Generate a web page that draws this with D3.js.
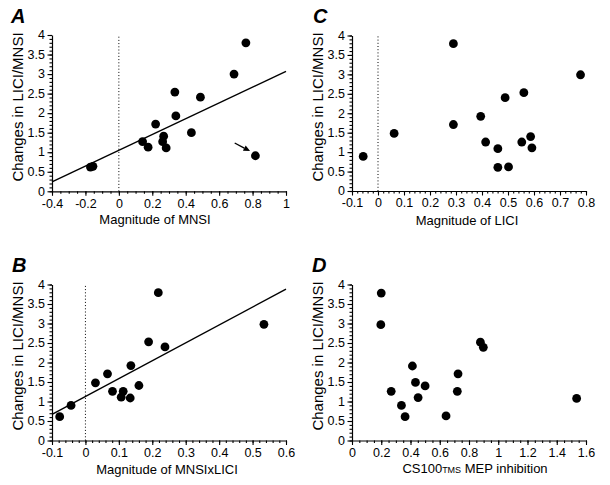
<!DOCTYPE html>
<html><head><meta charset="utf-8">
<script src="https://cdn.jsdelivr.net/npm/d3@7"></script>
<style>
body{margin:0;background:#fff}
text{font-family:"Liberation Sans",Arial,Helvetica,sans-serif;fill:#000}
</style>
</head><body>
<svg id="chart" width="610" height="485"></svg>
<script>
// ---- shared y axis ----
const yTicks = [0,0.5,1,1.5,2,2.5,3,3.5,4];
const yTickLabels = ["0","0.5","1","1.5","2","2.5","3","3.5","4"];
const yTitle = "Changes in LICI/MNSI";

// ---- panel A ----
const aX = [-0.17,-0.155,0.142,0.175,0.22,0.268,0.262,0.283,0.335,0.341,0.434,0.488,0.689,0.76,0.817];
const aY = [0.62,0.64,1.27,1.13,1.72,1.41,1.27,1.11,2.54,1.93,1.5,2.41,3.0,3.8,0.91];
const aXTicks = [-0.4,-0.2,0,0.2,0.4,0.6,0.8,1];
const aXTickLabels = ["-0.4","-0.2","0","0.2","0.4","0.6","0.8","1"];
const aFit = [[-0.4,0.24],[1,3.07]];
const aArrow = [[0.693,1.236],[0.785,1.03]];

// ---- panel B ----
const bX = [-0.077,-0.043,0.030,0.066,0.081,0.107,0.113,0.134,0.136,0.160,0.189,0.218,0.238,0.534];
const bY = [0.61,0.90,1.48,1.71,1.26,1.11,1.26,1.09,1.92,1.41,2.53,3.79,2.40,2.98];
const bXTicks = [-0.1,0,0.1,0.2,0.3,0.4,0.5,0.6];
const bXTickLabels = ["-0.1","0","0.1","0.2","0.3","0.4","0.5","0.6"];
const bFit = [[-0.1,0.67],[0.6,3.88]];

// ---- panel C ----
const cX = [-0.057,0.062,0.29,0.29,0.395,0.414,0.461,0.461,0.502,0.489,0.561,0.553,0.587,0.592,0.779];
const cY = [0.89,1.48,3.79,1.71,1.92,1.26,1.09,0.61,0.62,2.40,2.53,1.26,1.40,1.11,2.99];
const cXTicks = [-0.1,0,0.1,0.2,0.3,0.4,0.5,0.6,0.7,0.8];
const cXTickLabels = ["-0.1","0","0.1","0.2","0.3","0.4","0.5","0.6","0.7","0.8"];

// ---- panel D ----
const dX = [0.20,0.197,0.268,0.338,0.363,0.413,0.434,0.452,0.50,0.643,0.725,0.72,0.878,0.898,1.536];
const dY = [3.78,2.97,1.26,0.90,0.61,1.91,1.49,1.10,1.40,0.63,1.71,1.26,2.52,2.39,1.08];
const dXTicks = [0,0.2,0.4,0.6,0.8,1,1.2,1.4,1.6];
const dXTickLabels = ["0","0.2","0.4","0.6","0.8","1","1.2","1.4","1.6"];

const svg = d3.select("#chart");

function panel(o){
  const g = svg.append("g");
  const xd = [o.xTicks[0], o.xTicks[o.xTicks.length-1]];
  const x = d3.scaleLinear().domain(xd).range(o.xr);
  const y = d3.scaleLinear().domain([0,4]).range(o.yr);
  const x0 = o.xr[0], yb = o.yr[0];

  // minor ticks
  const xMinor = d3.range(xd[0], xd[1]+1e-9, o.xMinor);
  const yMinor = d3.range(0, 4+1e-9, 0.1);
  g.append("g").attr("transform",`translate(0,${yb})`)
    .call(d3.axisBottom(x).tickValues(xMinor).tickSize(2.5).tickFormat("").tickSizeOuter(0))
    .call(s=>s.select(".domain").remove());
  g.append("g").attr("transform",`translate(${x0},0)`)
    .call(d3.axisLeft(y).tickValues(yMinor).tickSize(2.5).tickFormat("").tickSizeOuter(0))
    .call(s=>s.select(".domain").remove());

  // major axes
  const ax = g.append("g").attr("transform",`translate(0,${yb})`)
    .call(d3.axisBottom(x).tickValues(o.xTicks).tickFormat((d,i)=>o.xLabels[i]).tickSize(4.5).tickSizeOuter(0).tickPadding(3));
  ax.selectAll("text").attr("font-size","12.5px").attr("font-family",null);
  const ay = g.append("g").attr("transform",`translate(${x0},0)`)
    .call(d3.axisLeft(y).tickValues(yTicks).tickFormat((d,i)=>yTickLabels[i]).tickSize(4.5).tickSizeOuter(0).tickPadding(2.5));
  ay.selectAll("text").attr("font-size","12.5px").attr("font-family",null).attr("dy","0.3em");
  g.selectAll(".tick line").attr("stroke","#000").attr("stroke-width",1.1);
  g.selectAll(".domain").attr("stroke","#000").attr("stroke-width",1.2);

  // zero dotted line
  if (o.zero){
    g.append("line").attr("x1",x(0)).attr("x2",x(0)).attr("y1",y(0)).attr("y2",y(4))
      .attr("stroke","#000").attr("stroke-width",1).attr("stroke-dasharray","1,2.2");
  }
  // fit line
  if (o.fit){
    g.append("path").attr("d",d3.line().x(d=>x(d[0])).y(d=>y(d[1]))(o.fit))
      .attr("stroke","#000").attr("stroke-width",1.4).attr("fill","none");
  }
  // points
  g.selectAll("circle.pt").data(o.xs.map((v,i)=>[v,o.ys[i]])).enter().append("circle")
    .attr("cx",d=>x(d[0])).attr("cy",d=>y(d[1])).attr("r",4.4).attr("fill","#000");
  // arrow
  if (o.arrow){
    const p0=[x(o.arrow[0][0]),y(o.arrow[0][1])], p1=[x(o.arrow[1][0]),y(o.arrow[1][1])];
    const ang=Math.atan2(p1[1]-p0[1],p1[0]-p0[0]);
    const L=6.5, W=3;
    const bx=p1[0]-L*Math.cos(ang), by=p1[1]-L*Math.sin(ang);
    g.append("line").attr("x1",p0[0]).attr("y1",p0[1]).attr("x2",bx).attr("y2",by)
      .attr("stroke","#000").attr("stroke-width",1.4);
    g.append("path").attr("d",`M${p1[0]},${p1[1]}L${bx-W*Math.sin(ang)},${by+W*Math.cos(ang)}L${bx+W*Math.sin(ang)},${by-W*Math.cos(ang)}Z`)
      .attr("fill","#000");
  }
  // titles
  const xt = g.append("text").attr("x",o.xtPos[0]).attr("y",o.xtPos[1]).attr("text-anchor","middle")
    .attr("font-size","13px");
  o.xTitle.forEach(p=>{
    const t = xt.append("tspan").text(p.t);
    if (p.small) t.attr("font-size","9px");
  });
  g.append("text").attr("transform",`translate(${o.ytPos[0]},${o.ytPos[1]}) rotate(-90)`)
    .attr("text-anchor","middle").attr("font-size","15px").text(yTitle);
  g.append("text").attr("x",o.letterPos[0]).attr("y",o.letterPos[1])
    .attr("font-size","20px").attr("font-weight","bold").attr("font-style","italic").text(o.letter);
}

panel({xs:aX, ys:aY, xTicks:aXTicks, xLabels:aXTickLabels, xMinor:0.05, xr:[52,286], yr:[191.3,35],
  zero:true, fit:aFit, arrow:aArrow, xTitle:[{t:"Magnitude of MNSI"}], xtPos:[155,224], ytPos:[23,107],
  letter:"A", letterPos:[11,23]});
panel({xs:cX, ys:cY, xTicks:cXTicks, xLabels:cXTickLabels, xMinor:0.02, xr:[352,586], yr:[191,35.5],
  zero:true, xTitle:[{t:"Magnitude of LICI"}], xtPos:[467,225], ytPos:[323,107],
  letter:"C", letterPos:[313,23]});
panel({xs:bX, ys:bY, xTicks:bXTicks, xLabels:bXTickLabels, xMinor:0.02, xr:[52,286], yr:[440.5,284.5],
  zero:true, fit:bFit, xTitle:[{t:"Magnitude of MNSIxLICI"}], xtPos:[167,474], ytPos:[23,356],
  letter:"B", letterPos:[12,272]});
panel({xs:dX, ys:dY, xTicks:dXTicks, xLabels:dXTickLabels, xMinor:0.05, xr:[352,586], yr:[440.5,284.5],
  zero:false, xTitle:[{t:"CS100"},{t:"TMS",small:true},{t:" MEP inhibition"}], xtPos:[475,473], ytPos:[323,356],
  letter:"D", letterPos:[312,272]});
</script>
</body></html>
